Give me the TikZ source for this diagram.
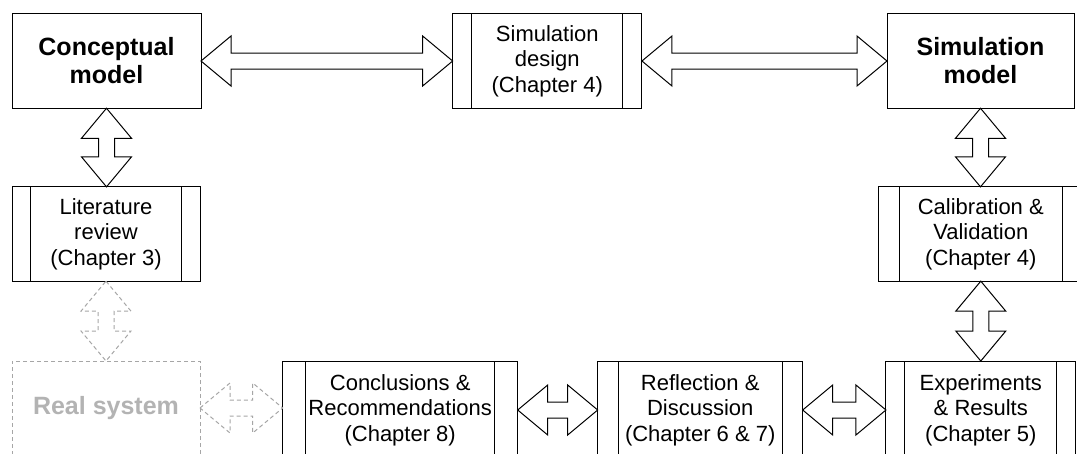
\documentclass[tikz,border=0pt]{standalone}
\usepackage{fontspec}
\setmainfont{Liberation Sans}
\usetikzlibrary{calc}
\definecolor{ghosttext}{HTML}{B3B3B3}
\definecolor{ghostline}{HTML}{A6A6A6}
\newcommand\regtxt{\fontsize{22}{25.5}\selectfont}
\newcommand\boldtxt{\fontsize{25}{28}\selectfont\bfseries}
\tikzset{
  box/.style={draw=black, line width=1pt, rectangle, inner sep=0pt, outer sep=0pt,
    minimum height=94pt, align=center, font=\regtxt},
  sidebars/.style={path picture={
    \draw[line width=1pt]
      ([xshift=#1]path picture bounding box.north west) -- ([xshift=#1]path picture bounding box.south west)
      ([xshift=-#1]path picture bounding box.north east) -- ([xshift=-#1]path picture bounding box.south east);}},
  ghostbox/.style={draw=ghostline, line width=1pt, dash pattern=on 4pt off 3pt, rectangle,
    inner sep=0pt, outer sep=0pt, minimum height=94pt, align=center, font=\boldtxt, text=ghosttext},
  dblarrow/.style={draw=black, fill=white, line width=1pt, line join=miter},
  ghostarrow/.style={draw=ghostline, fill=white, line width=1pt, dash pattern=on 4pt off 3pt},
}
% horizontal double block arrow between two named anchors
\newcommand\hdbl[3][dblarrow]{\path[#1] let \p1=(#2), \p2=(#3) in
  (\x1,\y1) -- (\x1+30pt,\y1+25pt) -- (\x1+30pt,\y1+8pt) -- (\x2-30pt,\y1+8pt) -- (\x2-30pt,\y1+25pt)
  -- (\x2,\y1) -- (\x2-30pt,\y1-25pt) -- (\x2-30pt,\y1-8pt) -- (\x1+30pt,\y1-8pt) -- (\x1+30pt,\y1-25pt) -- cycle;}
% vertical double block arrow between two named anchors (upper, lower)
\newcommand\vdbl[3][dblarrow]{\path[#1] let \p1=(#2), \p2=(#3) in
  (\x1,\y1) -- (\x1+25pt,\y1-30pt) -- (\x1+8pt,\y1-30pt) -- (\x1+8pt,\y2+30pt) -- (\x1+25pt,\y2+30pt)
  -- (\x1,\y2) -- (\x1-25pt,\y2+30pt) -- (\x1-8pt,\y2+30pt) -- (\x1-8pt,\y1-30pt) -- (\x1-25pt,\y1-30pt) -- cycle;}
\begin{document}
\begin{tikzpicture}[x=1pt,y=-1pt]
\useasboundingbox (0,0) rectangle (1077,453);
\clip (0,0) rectangle (1077,453);
% top row
\node[box, font=\boldtxt, minimum width=189pt, minimum height=94.5pt] (concept) at (106.5,61) {Conceptual\\model};
\node[box, sidebars=19pt, minimum width=189.3pt, minimum height=94.3pt] (design) at (547.3,61) {Simulation\\design\\(Chapter 4)};
\node[box, font=\boldtxt, minimum width=187pt, minimum height=94.5pt] (simmodel) at (980.5,61) {Simulation\\model};
% middle row
\node[box, sidebars=18.7pt, minimum width=188pt, minimum height=94.3pt] (lit) at (106,234) {Literature\\review\\(Chapter 3)};
\node[box, sidebars=21pt, minimum width=205.6pt, minimum height=94.3pt] (calib) at (980.8,234) {Calibration \&\\Validation\\(Chapter 4)};
% bottom row
\node[ghostbox, minimum width=188pt] (real) at (106,408) {Real system};
\node[box, sidebars=23pt, minimum width=235pt, minimum height=98pt] (concl) at (400.2,410) {Conclusions \&\\Recommendations\\(Chapter 8)};
\node[box, sidebars=20.5pt, minimum width=205pt, minimum height=98pt] (refl) at (700.2,410) {Reflection \&\\Discussion\\(Chapter 6 \& 7)};
\node[box, sidebars=19pt, minimum width=189.7pt, minimum height=98pt] (exper) at (980.8,410) {Experiments\\\& Results\\(Chapter 5)};
% connectors
\hdbl{concept.east}{design.west}
\hdbl{design.east}{simmodel.west}
\vdbl{concept.south}{lit.north}
\vdbl{simmodel.south}{calib.north}
\vdbl{calib.south}{exper.north}
\hdbl{concl.east}{refl.west}
\hdbl{refl.east}{exper.west}
\vdbl[ghostarrow]{lit.south}{real.north}
\hdbl[ghostarrow]{real.east}{concl.west}
\end{tikzpicture}
\end{document}
